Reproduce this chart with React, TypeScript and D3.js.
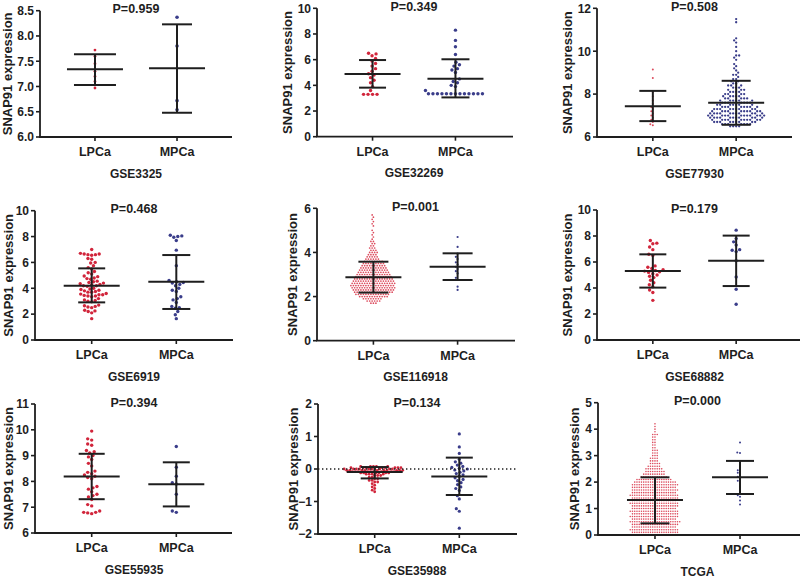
import React, { useMemo } from "react";
import * as d3 from "d3";

// ---------------- DATA ----------------
const groups = ["LPCa", "MPCa"];
const datasetNames = ["GSE3325", "GSE32269", "GSE77930", "GSE6919", "GSE116918", "GSE68882", "GSE55935", "GSE35988", "TCGA"];
const pLabels = ["P=0.959", "P=0.349", "P=0.508", "P=0.468", "P=0.001", "P=0.179", "P=0.394", "P=0.134", "P=0.000"];
const yLabel = "SNAP91 expression";

const yDomains: [number, number][] = [[6, 8.5], [0, 10], [6, 12], [0, 10], [0, 6], [0, 10], [6, 11], [-2, 2], [0, 5]];
const yTickValues: number[][] = [
  [6, 6.5, 7, 7.5, 8, 8.5],
  [0, 2, 4, 6, 8, 10],
  [6, 8, 10, 12],
  [0, 2, 4, 6, 8, 10],
  [0, 2, 4, 6],
  [0, 2, 4, 6, 8, 10],
  [6, 7, 8, 9, 10, 11],
  [-2, -1, 0, 1, 2],
  [0, 1, 2, 3, 4, 5],
];
const yTickFormats = [".1f", "d", "d", "d", "d", "d", "d", "d", "d"];

// mean and SD bounds [LPCa, MPCa]
const groupMeans: number[][] = [[7.34, 7.36], [4.88, 4.52], [7.43, 7.6], [4.2, 4.51], [2.87, 3.35], [5.31, 6.1], [8.19, 7.89], [-0.09, -0.23], [1.32, 2.18]];
const sdLower: number[][] = [[7.03, 6.48], [3.82, 3.06], [6.74, 6.57], [2.91, 2.4], [2.18, 2.75], [4.03, 4.15], [7.31, 7.03], [-0.29, -0.8], [0.44, 1.55]];
const sdUpper: number[][] = [[7.64, 8.23], [5.97, 6.03], [8.15, 8.62], [5.54, 6.57], [3.58, 3.96], [6.59, 8.03], [9.07, 8.74], [0.06, 0.35], [2.18, 2.8]];

// individual points
const gse3325LPCa = [7.72, 7.6, 7.45, 7.3, 7.2, 7.1, 6.97];
const gse3325MPCa = [8.37, 7.8, 6.72, 6.54];

const gse32269LPCa = [6.5, 6.45, 6.3, 6.1, 5.9, 5.7, 5.5, 5.3, 5.1, 4.9, 4.8, 4.6, 4.4, 4.2, 3.9, 3.6, 3.3, 3.3, 3.3, 3.3];
const gse32269MPCa = [8.3, 7.5, 7.0, 6.4, 5.8, 5.6, 5.5, 5.3, 5.2, 5.0, 4.5, 4.3, 4.2, 4.0, 3.9, 3.6,
  3.35, 3.35, 3.35, 3.35, 3.35, 3.35, 3.35, 3.35, 3.35, 3.35, 3.35, 3.35, 3.35];

const gse77930LPCa = [9.15, 8.75, 8.1, 7.9, 7.7, 7.55, 7.4, 7.3, 7.2, 7.1, 7.0, 6.9, 6.8, 6.7, 6.6, 6.55];
const gse77930MPCaLevels = [6.5, 6.6, 6.7, 6.8, 6.9, 7.0, 7.1, 7.2, 7.3, 7.4, 7.5, 7.6, 7.7, 7.8, 7.9, 8.0, 8.1, 8.2, 8.3, 8.4,
  8.5, 8.6, 8.7, 8.8, 8.9, 9.0, 9.1, 9.2, 9.3, 9.4, 9.6, 9.7, 9.8, 10.0, 10.2, 10.4, 10.5, 10.6, 11.35, 11.5];
const gse77930MPCaCounts = [4, 7, 9, 10, 11, 12, 11, 10, 9, 8, 7, 7, 6, 5, 5, 4, 4, 3, 3, 3,
  2, 2, 2, 1, 2, 1, 1, 1, 1, 1, 1, 1, 2, 1, 1, 1, 1, 1, 1, 1];

const gse6919LPCa = [7.0, 6.7, 6.65, 6.65, 6.6, 6.6, 6.55, 6.3, 6.25, 6.0, 5.95, 5.75, 5.6, 5.5, 5.3, 5.2, 5.1, 4.95, 4.9, 4.8,
  4.75, 4.7, 4.55, 4.5, 4.45, 4.4, 4.35, 4.3, 4.25, 4.2, 4.2, 4.15, 4.0, 3.95, 3.9, 3.85, 3.8, 3.75, 3.7, 3.7,
  3.6, 3.55, 3.5, 3.5, 3.45, 3.4, 3.4, 3.35, 3.2, 3.1, 3.05, 3.0, 2.95, 2.7, 2.65, 2.6, 2.55, 2.5, 2.3, 2.25,
  2.2, 2.1, 1.65];
const gse6919MPCa = [8.1, 8.05, 8.0, 7.95, 7.7, 6.95, 5.75, 4.6, 4.5, 4.45, 4.4, 4.3, 4.2, 4.0, 3.85, 3.75, 3.35, 3.2, 3.1,
  2.9, 2.6, 2.5, 2.45, 2.2, 1.95, 1.65];

const gse116918LPCaLevels = [1.7, 1.8, 1.9, 2.0, 2.1, 2.2, 2.3, 2.4, 2.5, 2.6, 2.7, 2.8, 2.9, 3.0, 3.1, 3.2, 3.3, 3.4, 3.5, 3.6,
  3.7, 3.8, 3.9, 4.0, 4.1, 4.2, 4.3, 4.4, 4.5, 4.6, 4.7, 4.8, 4.9, 5.0, 5.2, 5.3, 5.4, 5.5, 5.6, 5.7];
const gse116918LPCaCounts = [3, 6, 8, 12, 14, 16, 17, 18, 18, 18, 17, 16, 15, 14, 13, 12, 11, 10, 9, 8,
  6, 5, 4, 4, 3, 3, 2, 2, 2, 1, 1, 1, 1, 1, 1, 1, 1, 1, 1, 1];
const gse116918MPCa = [4.7, 4.25, 3.95, 3.8, 3.7, 3.55, 3.45, 3.35, 3.25, 3.15, 3.05, 2.85, 2.75, 2.45, 2.3];

const gse68882LPCa = [7.65, 7.45, 7.4, 7.15, 6.95, 6.6, 6.5, 5.7, 5.6, 5.5, 5.4, 5.35, 5.3, 5.25, 5.2, 5.1, 5.0, 4.9, 4.8,
  4.6, 4.4, 4.25, 4.1, 3.85, 3.65, 3.05];
const gse68882MPCa = [8.45, 7.8, 7.55, 7.3, 6.95, 6.9, 6.8, 6.1, 4.85, 3.9, 2.75];

const gse55935LPCa = [9.95, 9.65, 9.6, 9.45, 9.4, 9.2, 9.15, 9.1, 9.0, 8.95, 8.85, 8.7, 8.6, 8.4, 8.35, 8.3, 8.25, 8.2,
  8.15, 8.1, 7.8, 7.75, 7.7, 7.6, 7.5, 7.45, 7.4, 7.3, 7.1, 7.05, 6.85, 6.8, 6.8, 6.78, 6.75];
const gse55935MPCa = [9.35, 8.55, 8.2, 7.95, 7.9, 7.5, 6.85, 6.8];

const gse35988LPCaLevels = [0.08, 0.04, 0.0, -0.04, -0.08, -0.12, -0.16, -0.2, -0.25, -0.3, -0.35, -0.4, -0.45, -0.5, -0.55, -0.6, -0.65, -0.7];
const gse35988LPCaCounts = [5, 8, 10, 10, 9, 6, 4, 3, 2, 2, 2, 2, 1, 1, 1, 1, 1, 1];
const gse35988MPCa = [1.08, 0.68, 0.48, 0.3, 0.22, 0.18, 0.12, 0.08, 0.05, 0.02, 0.0, -0.03, -0.06, -0.1, -0.14, -0.18,
  -0.22, -0.27, -0.32, -0.36, -0.42, -0.48, -0.55, -0.6, -0.66, -0.82, -0.92, -1.22, -1.3, -1.82];

const tcgaLPCaLevels = [0.0, 0.1, 0.2, 0.3, 0.4, 0.5, 0.6, 0.7, 0.8, 0.9, 1.0, 1.1, 1.2, 1.3, 1.4, 1.5, 1.6, 1.7, 1.8, 1.9,
  2.0, 2.1, 2.2, 2.3, 2.4, 2.5, 2.6, 2.7, 2.8, 2.9, 3.0, 3.1, 3.2, 3.3, 3.4, 3.5, 3.6, 3.7, 3.8, 3.9, 4.0, 4.1, 4.2];
const tcgaLPCaCounts = [18, 21, 22, 20, 21, 23, 20, 22, 21, 22, 20, 21, 22, 20, 21, 22, 20, 21, 20, 21,
  19, 16, 12, 10, 9, 8, 6, 5, 4, 4, 3, 3, 3, 2, 2, 2, 2, 2, 3, 1, 1, 1, 1];
const tcgaMPCa = [3.5, 3.12, 3.1, 2.75, 2.5, 2.45, 2.4, 2.35, 2.3, 2.2, 2.15, 2.05, 2.0, 1.9, 1.8, 1.7, 1.6, 1.5, 1.45, 1.3, 1.15];

// ---------------- LAYOUT / STYLE ----------------
const FONT = "'Liberation Sans', Arial, Helvetica, sans-serif";
const RED = "#d1253b";
const LIGHT_RED = "#dc4a5c";
const BLUE = "#3a3d8a";
const INK = "#1e1e1e";

type Layout = { x0: number; top: number; bottom: number; xEnd: number; w: number; r: number[]; sp: number[]; caps: number[]; labelOff: number; light?: boolean[]; dotted?: boolean };
const layouts: Layout[] = [
  { x0: 40, top: 10.7, bottom: 137, xEnd: 232, w: 192, r: [1.4, 1.8], sp: [3.6, 4], caps: [21, 15], labelOff: 28.3 },
  { x0: 317, top: 8.3, bottom: 136.7, xEnd: 513, w: 194, r: [1.7, 1.7], sp: [4.3, 4.3], caps: [13.5, 14], labelOff: 25.3 },
  { x0: 597, top: 8.3, bottom: 137, xEnd: 792, w: 195, r: [1.0, 1.15], sp: [2.6, 2.9], caps: [13.5, 14.5], labelOff: 25.3, light: [true, false] },
  { x0: 35, top: 210.7, bottom: 340, xEnd: 233, w: 198, r: [1.7, 1.7], sp: [3.6, 4.0], caps: [13.5, 14], labelOff: 22.3 },
  { x0: 317, top: 208.3, bottom: 340.7, xEnd: 515, w: 197, r: [0.85, 1.1], sp: [2.5, 2.8], caps: [15, 15], labelOff: 20.5, light: [true, false] },
  { x0: 597, top: 210, bottom: 340, xEnd: 800, w: 195, r: [1.7, 1.7], sp: [4, 4], caps: [13.5, 13.5], labelOff: 25.3 },
  { x0: 35, top: 404, bottom: 533, xEnd: 232, w: 198, r: [1.7, 1.7], sp: [4, 4], caps: [13, 13.5], labelOff: 22.3 },
  { x0: 318, top: 404, bottom: 534, xEnd: 517, w: 198, r: [1.4, 1.6], sp: [2.8, 3.8], caps: [14, 13.5], labelOff: 20.3, dotted: true },
  { x0: 598, top: 402.7, bottom: 535, xEnd: 800, w: 199, r: [0.8, 1.0], sp: [2.25, 2.6], caps: [14.5, 14], labelOff: 19.5, light: [true, false] },
];

function expand(levels: number[], counts: number[]): number[] {
  const out: number[] = [];
  levels.forEach((v, i) => {
    for (let k = 0; k < counts[i]; k++) out.push(v);
  });
  return out;
}

const panelValues: number[][][] = [
  [gse3325LPCa, gse3325MPCa],
  [gse32269LPCa, gse32269MPCa],
  [gse77930LPCa, expand(gse77930MPCaLevels, gse77930MPCaCounts)],
  [gse6919LPCa, gse6919MPCa],
  [expand(gse116918LPCaLevels, gse116918LPCaCounts), gse116918MPCa],
  [gse68882LPCa, gse68882MPCa],
  [gse55935LPCa, gse55935MPCa],
  [expand(gse35988LPCaLevels, gse35988LPCaCounts), gse35988MPCa],
  [expand(tcgaLPCaLevels, tcgaLPCaCounts), tcgaMPCa],
];

// beeswarm: points keep their y, x offset is the smallest that avoids overlap
function beeswarm(ys: number[], sp: number): { dx: number; y: number }[] {
  const sorted = [...ys].sort((a, b) => b - a);
  const placed: { dx: number; y: number }[] = [];
  const sp2 = sp * sp;
  for (const py of sorted) {
    const near = placed.filter((q) => Math.abs(q.y - py) < sp);
    let best = 0;
    for (let k = 0; k < 4000; k++) {
      const off = (k % 2 === 0 ? 1 : -1) * Math.ceil(k / 2) * 0.25;
      let ok = true;
      for (const q of near) {
        const dx = q.dx - off;
        const dy = q.y - py;
        if (dx * dx + dy * dy < sp2 - 1e-6) { ok = false; break; }
      }
      if (ok) { best = off; break; }
    }
    placed.push({ dx: best, y: py });
  }
  return placed;
}

function Panel({ i }: { i: number }) {
  const L = layouts[i];
  const y = d3.scaleLinear().domain(yDomains[i]).range([L.bottom, L.top]);
  const x = d3.scalePoint<string>().domain(groups).range([L.x0, L.x0 + L.w]).padding(0.67);
  const fmt = d3.format(yTickFormats[i]);
  const swarms = useMemo(
    () => panelValues[i].map((vals, g) => beeswarm(vals.map((v) => y(v)), L.sp[g])),
    [i]
  );
  const cx = ((x(groups[0]) as number) + (x(groups[1]) as number)) / 2;
  const [d0, d1] = yDomains[i];
  const yMid = (L.top + L.bottom) / 2;
  const labelX = L.x0 - L.labelOff;
  const colorOf = (g: number) => (g === 0 ? (L.light && L.light[0] ? LIGHT_RED : RED) : BLUE);
  return (
    <g>
      {/* points */}
      {swarms.map((pts, g) =>
        pts.map((p, k) => (
          <circle key={`${g}-${k}`} cx={(x(groups[g]) as number) + p.dx} cy={p.y} r={L.r[g]} fill={colorOf(g)} />
        ))
      )}
      {/* dotted zero line */}
      {L.dotted && (
        <line x1={L.x0} x2={L.xEnd} y1={y(0)} y2={y(0)} stroke={INK} strokeWidth={1.3} strokeDasharray="1.4 2.6" />
      )}
      {/* mean +/- SD */}
      {groups.map((gName, g) => {
        const gx = x(gName) as number;
        return (
          <g key={gName} stroke={INK} strokeWidth={2}>
            <line x1={gx} x2={gx} y1={y(sdLower[i][g])} y2={y(sdUpper[i][g])} />
            <line x1={gx - 28} x2={gx + 28} y1={y(groupMeans[i][g])} y2={y(groupMeans[i][g])} />
            <line x1={gx - L.caps[g]} x2={gx + L.caps[g]} y1={y(sdLower[i][g])} y2={y(sdLower[i][g])} />
            <line x1={gx - L.caps[g]} x2={gx + L.caps[g]} y1={y(sdUpper[i][g])} y2={y(sdUpper[i][g])} />
          </g>
        );
      })}
      {/* y axis */}
      <line x1={L.x0} x2={L.x0} y1={y(d1)} y2={y(d0)} stroke={INK} strokeWidth={1.8} />
      {yTickValues[i].map((t) => (
        <g key={t}>
          <line x1={L.x0 - 4} x2={L.x0} y1={y(t)} y2={y(t)} stroke={INK} strokeWidth={1.6} />
          <text x={L.x0 - 6} y={y(t)} dy="0.36em" textAnchor="end" fontSize={12} fontWeight="bold" fill={INK} fontFamily={FONT}>
            {fmt(t)}
          </text>
        </g>
      ))}
      {/* x axis */}
      <line x1={L.x0 - 0.9} x2={L.xEnd} y1={L.bottom} y2={L.bottom} stroke={INK} strokeWidth={1.8} />
      {groups.map((gName) => (
        <g key={gName}>
          <line x1={x(gName) as number} x2={x(gName) as number} y1={L.bottom} y2={L.bottom + 4} stroke={INK} strokeWidth={1.6} />
          <text x={x(gName) as number} y={L.bottom + 19} textAnchor="middle" fontSize={12.5} fontWeight="bold" fill={INK} fontFamily={FONT}>
            {gName}
          </text>
        </g>
      ))}
      <text x={cx} y={L.bottom + 40.5} textAnchor="middle" fontSize={12} fontWeight="bold" fill={INK} fontFamily={FONT}>
        {datasetNames[i]}
      </text>
      <text x={cx} y={L.top + 2.5} textAnchor="middle" fontSize={12.5} fontWeight="bold" fill={INK} fontFamily={FONT}>
        {pLabels[i]}
      </text>
      <text
        transform={`translate(${labelX},${yMid}) rotate(-90)`}
        textAnchor="middle"
        fontSize={13}
        fontWeight="bold"
        fill={INK}
        fontFamily={FONT}
      >
        {yLabel}
      </text>
    </g>
  );
}

export default function App() {
  return (
    <svg width={800} height={577} style={{ position: "absolute", left: 0, top: 0, background: "#fff" }}>
      <rect width={800} height={577} fill="#fff" />
      {datasetNames.map((_, i) => (
        <Panel key={i} i={i} />
      ))}
    </svg>
  );
}
